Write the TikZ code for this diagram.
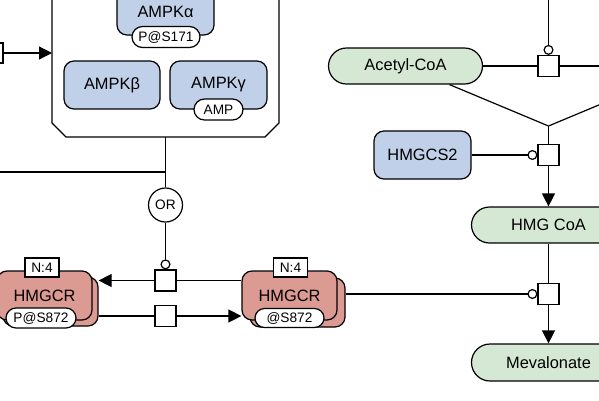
\documentclass[tikz,border=0pt]{standalone}
\usepackage{fontspec}
\setmainfont{Liberation Sans}
\usetikzlibrary{arrows.meta,shapes.misc,calc}
\definecolor{mblue}{RGB}{191,208,232}
\definecolor{mgreen}{RGB}{213,232,212}
\definecolor{mred}{RGB}{219,154,146}
\begin{document}
\begin{tikzpicture}[x=1pt,y=-1pt,line width=1.2pt,
  base/.style={draw,line width=1.2pt,inner sep=0pt},
  big/.style={font=\fontsize{16.4}{18}\selectfont},
  small/.style={font=\fontsize{13.7}{15}\selectfont},
  macrob/.style={base,big,fill=mblue,rounded corners=10pt},
  macror/.style={base,big,fill=mred,rounded corners=10pt,minimum width=95pt,minimum height=49pt},
  simple/.style={base,big,fill=mgreen,rounded rectangle,minimum width=154pt,minimum height=36pt},
  pill/.style={base,small,fill=white,rounded rectangle},
  uinfo/.style={base,small,fill=white,rectangle,minimum width=34pt,minimum height=19pt},
  proc/.style={base,fill=white,rectangle,minimum size=21pt},
  arr/.style={-{Triangle[length=13pt,width=13pt]}},
  modc/.style={-{Circle[length=10pt,fill=white]}}]
\useasboundingbox (0,0) rectangle (599,400);
% AMPK complex
\draw[fill=white] (52,-10) -- (52,123) -- (66,137) -- (265,137) -- (279,123) -- (279,-10);
\coordinate (cxb) at (165.5,137);
\coordinate (cxw) at (52,53);
\node[macrob,minimum width=97pt,minimum height=46pt] (ampka) at (165.5,12) {AMPKα};
\node[pill,minimum width=68pt,minimum height=21pt] (ps171) at (166,37) {P@S171};
\node[macrob,minimum width=96pt,minimum height=48pt] (ampkb) at (112,85) {AMPKβ};
\node[macrob,minimum width=97pt,minimum height=48pt] (ampkg) at (218.5,85) {AMPKγ};
\node[pill,minimum width=49pt,minimum height=21pt] (amp) at (218.5,109.5) {AMP};
% left input
\node[proc,minimum size=20pt] (lbox) at (-7,53) {};
\draw[arr] (lbox.east) -- (cxw);
% OR
\node[base,small,circle,fill=white,minimum size=34pt] (or) at (165.5,205) {OR};
\coordinate (j1) at (165.5,172);
\coordinate (lfree) at (-5,172);
\draw (cxb) -- (or.north);
\draw (lfree) -- (j1);
% processes
\node[proc] (sq1) at (165.5,280.5) {};
\node[proc] (sq2) at (165.5,316) {};
\draw[modc] (or.south) -- (sq1.north);
% HMGCR left
\node[macror] (hlb) at (50.5,301.5) {};
\node[macror] (hl) at (44.5,295.5) {HMGCR};
\node[uinfo] (hln) at (42,267.5) {N:4};
\node[pill,minimum width=70pt,minimum height=20pt] (hlp) at (41,318) {P@S872};
% HMGCR right
\node[macror] (hrb) at (297.5,302.5) {};
\node[macror] (hr) at (289.5,295.5) {HMGCR};
\node[uinfo] (hrn) at (290.5,267.5) {N:4};
\node[pill,minimum width=69pt,minimum height=19pt] (hrp) at (289.5,318) {@S872};
\draw[arr] (sq1.west) -- (sq1.west -| hlb.east);
\draw (sq1.east) -- (sq1.east -| hr.west);
\draw (hlb.east |- sq2.west) -- (sq2.west);
\draw[arr] (sq2.east) -- (sq2.east -| hr.west);
% right side
\node[simple] (acoa) at (405.5,66) {Acetyl-CoA};
\node[proc] (sq4) at (548.5,66) {};
\coordinate (rfree) at (600,66);
\coordinate (topfree) at (548.5,-5);
\draw (acoa.east) -- (sq4.west);
\draw (sq4.east) -- (rfree);
\draw[modc] (topfree) -- (sq4.north);
\node[proc] (sq5) at (548.5,155) {};
\coordinate (vj) at (548.5,126);
\coordinate (rfree2) at (606,102);
\draw ($(acoa.south)+(44,0)$) -- (vj);
\draw (rfree2) -- (vj);
\draw (vj) -- (sq5.north);
\node[macrob,minimum width=97pt,minimum height=48pt] (hmgcs2) at (422.5,155) {HMGCS2};
\draw[modc] (hmgcs2.east) -- (sq5.west);
\node[simple] (hmgcoa) at (548.5,225) {HMG CoA};
\draw[arr] (sq5.south) -- (hmgcoa.north);
\node[proc] (sq3) at (548.5,294) {};
\node[simple,minimum height=37pt] (mev) at (548.5,362.5) {Mevalonate};
\draw (hmgcoa.south) -- (sq3.north);
\draw[arr] (sq3.south) -- (mev.north);
\draw[modc] (hrb.east |- sq3.west) -- (sq3.west);
\end{tikzpicture}
\end{document}
